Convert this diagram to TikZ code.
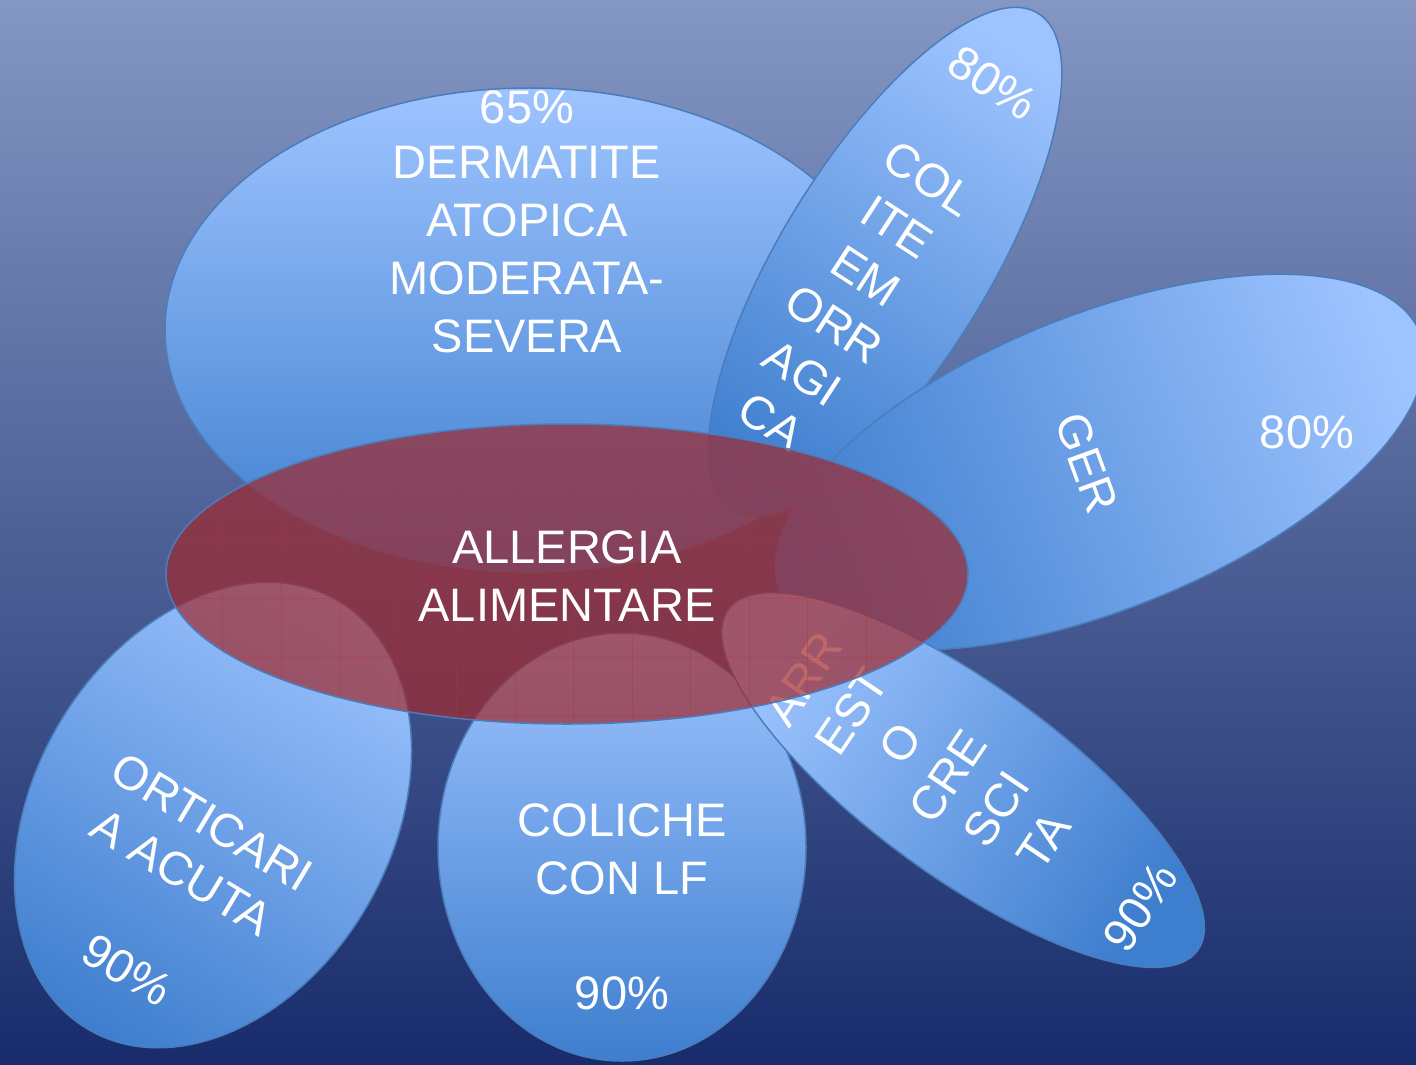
\documentclass[tikz,border=0pt]{standalone}
\usepackage{fontspec}
\setmainfont{Liberation Sans}
\definecolor{bgtop}{RGB}{132,150,194}
\definecolor{bgbot}{RGB}{24,44,108}
\definecolor{petaltop}{RGB}{158,196,255}
\definecolor{petalbot}{RGB}{62,126,206}
\definecolor{petalline}{RGB}{74,126,187}
\definecolor{allergy}{RGB}{160,40,45}
\definecolor{gridred}{RGB}{180,50,55}

\begin{document}
\begin{tikzpicture}[x=0.5pt, y=-0.5pt,
  petal/.style={draw=petalline, line width=0.75pt,
                top color=petaltop, bottom color=petalbot},
  lbl/.style={text=white, align=center, inner sep=0pt,
              font=\fontsize{23.5}{29}\selectfont}
]
  \useasboundingbox (0,0) rectangle (1416,1064);
  \shade[top color=bgtop, bottom color=bgbot] (0,0) rectangle (1416,1064);

  % petals, back to front
  \path[petal] (529,330) ellipse [x radius=364, y radius=242];
  \node[lbl] (dermpct) at (527,107) {65\%};
  \node[lbl] (dermtxt) at (527,250) {DERMATITE\\ATOPICA\\MODERATA-\\SEVERA};

  \path[petal, shading angle=-31.6] (885,262) ellipse [x radius=104, y radius=292, rotate=-31.6];
  \node[lbl, rotate=-33] (colpct) at (993,83) {80\%};
  \node[lbl, rotate=-33] (coltxt) at (850,300) {COL\\ITE\\EM\\ORR\\AGI\\CA};

  \path[petal, shading angle=-68] (1100,462) ellipse [x radius=147, y radius=345, rotate=-68];
  \node[lbl, rotate=-70] (gertxt) at (1087,463) {GER};
  \node[lbl] (gerpct) at (1307,432) {80\%};

  \path[petal] (622,847) ellipse [x radius=184, y radius=214];
  \node[lbl] (colictxt) at (622,849) {COLICHE\\CON LF};
  \node[lbl] (colicpct) at (622,993) {90\%};

  \path[petal, shading angle=54] (963,780) ellipse [x radius=96, y radius=290, rotate=54];
  \node[lbl, rotate=56] (arrtxt) at (924,760) {ARR\\EST\\O\\CRE\\SCI\\TA};
  \node[lbl, rotate=56] (arrpct) at (1140,907) {90\%};

  \path[petal, shading angle=-30] (213,815) ellipse [x radius=179, y radius=248, rotate=-30];
  \node[lbl, rotate=-31] (orttxt) at (197,847) {ORTICARI\\A ACUTA};
  \node[lbl, rotate=-31] (ortpct) at (127,970) {90\%};

  % centre
  \path[fill=allergy, fill opacity=0.7] (567,574) ellipse [x radius=401, y radius=150];
  \begin{scope}
    \clip (567,574) ellipse [x radius=401, y radius=150];
    \foreach \gx in {164,222.5,...,983}
      \draw[gridred, line width=0.4pt, opacity=0.35] (\gx,420) -- (\gx,728);
    \foreach \gy in {423,481.5,...,774}
      \draw[gridred, line width=0.4pt, opacity=0.35] (160,\gy) -- (972,\gy);
  \end{scope}
  \draw[petalline, line width=0.75pt] (567,574) ellipse [x radius=401, y radius=150];
  \node[lbl] (allergia) at (567,576) {ALLERGIA\\ALIMENTARE};
\end{tikzpicture}
\end{document}
